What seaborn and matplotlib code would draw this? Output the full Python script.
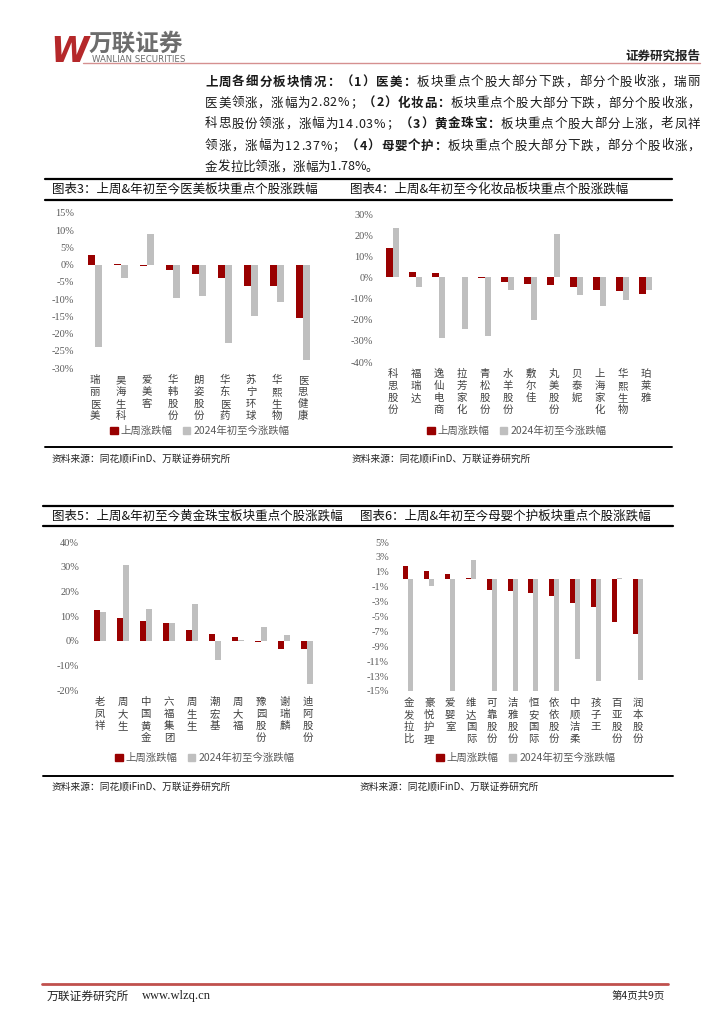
import numpy as np
import pandas as pd
import seaborn as sns
import matplotlib.pyplot as plt
from matplotlib.lines import Line2D
from matplotlib.patches import Patch

# ---- data ----
series_names = ["上周涨跌幅", "2024年初至今涨跌幅"]

yimei_names = ["瑞丽医美", "昊海生科", "爱美客", "华韩股份", "朗姿股份", "华东医药", "苏宁环球", "华熙生物", "医思健康"]
yimei_week = [2.82, 0.2, -0.4, -1.5, -2.8, -4.0, -6.2, -6.2, -15.5]
yimei_ytd = [-24.0, -3.9, 8.8, -9.8, -9.2, -22.8, -14.8, -10.8, -27.6]

hzp_names = ["科思股份", "福瑞达", "逸仙电商", "拉芳家化", "青松股份", "水羊股份", "敷尔佳", "丸美股份", "贝泰妮", "上海家化", "华熙生物", "珀莱雅"]
hzp_week = [14.03, 2.5, 1.9, 0.4, -0.4, -2.1, -3.3, -3.8, -4.7, -5.8, -6.2, -7.9]
hzp_ytd = [23.2, -4.3, -28.7, -24.2, -27.5, -5.8, -20.1, 20.7, -8.5, -13.7, -10.9, -5.8]

hj_names = ["老凤祥", "周大生", "中国黄金", "六福集团", "周生生", "潮宏基", "周大福", "豫园股份", "谢瑞麟", "迪阿股份"]
hj_week = [12.37, 9.1, 8.0, 7.1, 4.5, 2.7, 1.5, -0.4, -3.3, -3.4]
hj_ytd = [11.8, 30.6, 12.7, 7.2, 14.8, -7.9, 0.4, 5.6, 2.3, -17.6]

my_names = ["金发拉比", "豪悦护理", "爱婴室", "维达国际", "可靠股份", "洁雅股份", "恒安国际", "依依股份", "中顺洁柔", "孩子王", "百亚股份", "润本股份"]
my_week = [1.78, 1.16, 0.67, 0.22, -1.4, -1.6, -1.9, -2.2, -3.2, -3.7, -5.8, -7.3]
my_ytd = [-15.3, -0.9, -15.3, 2.6, -15.3, -15.3, -15.3, -15.3, -10.7, -13.6, 0.2, -13.5]

RED = "#990000"
GRAY = "#BFBFBF"
W, H = 724, 1024

sns.set_theme(style="white")
plt.rcParams['font.family'] = ['Noto Sans CJK SC', 'DejaVu Sans']
plt.rcParams['axes.unicode_minus'] = False

fig = plt.figure(figsize=(W / 100, H / 100), dpi=100)
fig.patch.set_facecolor("white")


def fx(x):
    return x / W


def fy(y):
    return 1 - y / H


def hline(x0, x1, y, color="black", lw=1.5):
    fig.add_artist(Line2D([fx(x0), fx(x1)], [fy(y), fy(y)], transform=fig.transFigure,
                          color=color, lw=lw))


def chart(box, names, week, ytd, ticks, width, legend_xy, tick_right):
    x0, y0, x1, y1 = box
    ax = fig.add_axes([fx(x0), fy(y1), fx(x1 - x0), (y1 - y0) / H])
    df = pd.DataFrame({
        "name": names * 2,
        "series": [series_names[0]] * len(names) + [series_names[1]] * len(names),
        "value": list(week) + list(ytd),
    })
    sns.barplot(data=df, x="name", y="value", hue="series", palette=[RED, GRAY],
                width=width, saturation=1, ax=ax, legend=False, edgecolor="none")
    ax.set_xlim(-0.5, len(names) - 0.5)
    ax.set_ylim(ticks[-1], ticks[0])
    ax.set_yticks(ticks)
    ax.set_yticklabels([f"{t:.0f}%" for t in ticks], family=['Liberation Serif', 'Noto Sans CJK SC'],
                       fontsize=7.5, color="#595959")
    ax.set_xticks(range(len(names)))
    ax.set_xticklabels(["\n".join(n) for n in names], fontsize=7.5, color="#404040",
                       linespacing=1.25, va="top")
    ax.tick_params(axis="y", length=0, pad=(x0 - tick_right) * 0.72)
    ax.tick_params(axis="x", length=0, pad=5)
    ax.set_xlabel("")
    ax.set_ylabel("")
    for s in ax.spines.values():
        s.set_visible(False)
    ax.set_facecolor("none")
    handles = [Patch(color=RED), Patch(color=GRAY)]
    fig.legend(handles, series_names, loc="center", bbox_to_anchor=(fx(legend_xy[0]), fy(legend_xy[1])),
               ncol=2, frameon=False, fontsize=7.5, handlelength=0.7, handleheight=0.7,
               handletextpad=0.3, columnspacing=1.0, labelcolor="#595959")
    return ax


# ---- header ----
fig.text(fx(50), fy(62), "W", fontsize=25, color="#B5282A", weight="bold", style="italic",
         family="DejaVu Sans", va="baseline", ha="left")
fig.text(fx(89), fy(51), "万联证券", fontsize=17, color="#6D6D6D", weight="bold", va="baseline", ha="left")
fig.text(fx(92), fy(61.5), "WANLIAN SECURITIES", fontsize=6.2, color="#6D6D6D", va="baseline", ha="left",
         family="DejaVu Sans")
hline(83, 700, 63, color="#D59090", lw=1.0)
fig.text(fx(700), fy(56), "证券研究报告", fontsize=9, weight="bold", color="#222222", ha="right", va="center")

# ---- paragraph, justified char by char ----
renderer = fig.canvas.get_renderer()
para = [
    [("上周各细分板块情况：", True), ("（1）医美：", True), ("板块重点个股大部分下跌，部分个股收涨，瑞丽", False)],
    [("医美领涨，涨幅为2.82%；", False), ("（2）化妆品：", True), ("板块重点个股大部分下跌，部分个股收涨，", False)],
    [("科思股份领涨，涨幅为14.03%；", False), ("（3）黄金珠宝：", True), ("板块重点个股大部分上涨，老凤祥", False)],
    [("领涨，涨幅为12.37%；", False), ("（4）母婴个护：", True), ("板块重点个股大部分下跌，部分个股收涨，", False)],
    [("金发拉比领涨，涨幅为1.78%。", False)],
]
line_y = [82, 103, 124, 146, 167]
px0, px1 = 205, 700
for li, segs in enumerate(para):
    items = []
    for txt, bold in segs:
        for ch in txt:
            t = fig.text(0, fy(line_y[li]), ch, fontsize=9, color="#1a1a1a",
                         weight="bold" if bold else "normal", va="center", ha="left",
                         family=['Noto Sans CJK SC', 'DejaVu Sans'])
            items.append((t, t.get_window_extent(renderer).width))
    total = sum(w for _, w in items)
    gap = (px1 - px0 - total) / (len(items) - 1) if li < len(para) - 1 else 0.0
    x = px0
    for t, w in items:
        t.set_x(fx(x))
        x += w + gap

# ---- frame lines / titles / sources ----
hline(45, 672, 179, lw=1.6)
hline(45, 672, 200, lw=1.6)
hline(45, 672, 447, lw=1.4)
hline(43, 673, 506, lw=1.6)
hline(43, 673, 526, lw=1.6)
hline(43, 673, 776, lw=1.4)

fig.text(fx(52), fy(189.5), "图表3：上周&年初至今医美板块重点个股涨跌幅", fontsize=9, va="center", color="#111111")
fig.text(fx(350), fy(189.5), "图表4：上周&年初至今化妆品板块重点个股涨跌幅", fontsize=9, va="center", color="#111111")
fig.text(fx(52), fy(516.5), "图表5：上周&年初至今黄金珠宝板块重点个股涨跌幅", fontsize=9, va="center", color="#111111")
fig.text(fx(360), fy(516.5), "图表6：上周&年初至今母婴个护板块重点个股涨跌幅", fontsize=9, va="center", color="#111111")

src = "资料来源：同花顺iFinD、万联证券研究所"
fig.text(fx(52), fy(459), src, fontsize=7, va="center", color="#222222")
fig.text(fx(352), fy(459), src, fontsize=7, va="center", color="#222222")
fig.text(fx(52), fy(787), src, fontsize=7, va="center", color="#222222")
fig.text(fx(360), fy(787), src, fontsize=7, va="center", color="#222222")

# ---- charts ----
chart((82, 213, 316, 368), yimei_names, yimei_week, yimei_ytd,
      [15, 10, 5, 0, -5, -10, -15, -20, -25, -30], 0.56, (200, 431), 74)
chart((381, 214, 657, 362), hzp_names, hzp_week, hzp_ytd,
      [30, 20, 10, 0, -10, -20, -30, -40], 0.58, (517, 431), 373)
chart((88, 542, 319, 690), hj_names, hj_week, hj_ytd,
      [40, 30, 20, 10, 0, -10, -20], 0.52, (205, 758), 79)
chart((398, 542, 648, 691), my_names, my_week, my_ytd,
      [5, 3, 1, -1, -3, -5, -7, -9, -11, -13, -15], 0.48, (526, 758), 389)

# ---- footer ----
hline(42, 668, 984, color="#C0504D", lw=2.0)
fig.text(fx(47), fy(996), "万联证券研究所", fontsize=8.5, va="center", color="#222222")
fig.text(fx(142), fy(996), "www.wlzq.cn", fontsize=9, va="center", color="#222222", family="Liberation Serif")
fig.text(fx(665), fy(996), "第4页共9页", fontsize=7.5, va="center", ha="right", color="#222222")

fig.savefig("out.png", dpi=100)
